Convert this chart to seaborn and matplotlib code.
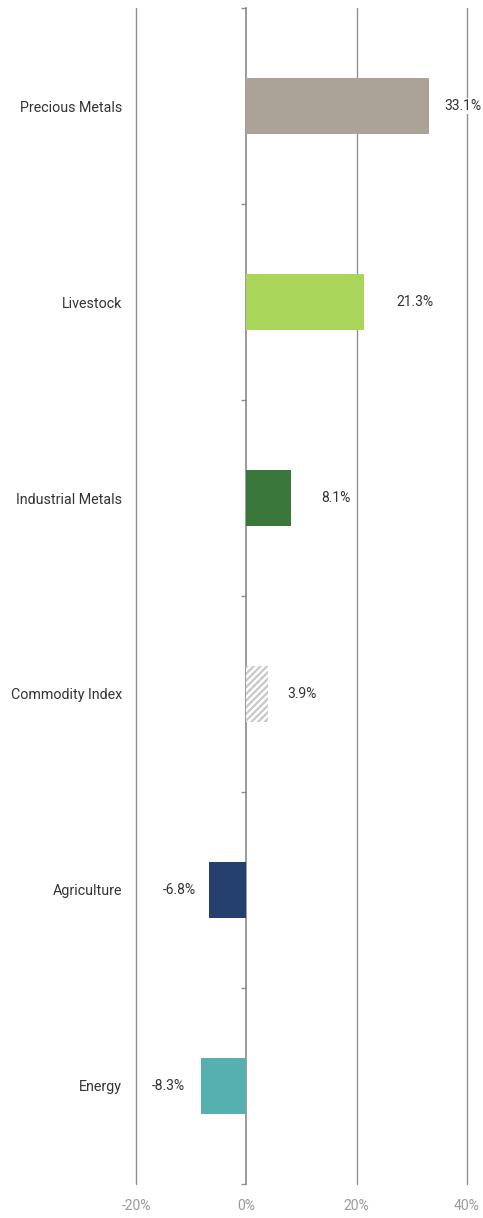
import matplotlib
matplotlib.use("Agg")
import matplotlib.pyplot as plt
import seaborn as sns
import pandas as pd

categories = ["Precious Metals", "Livestock", "Industrial Metals", "Commodity Index", "Agriculture", "Energy"]
returns = [33.1, 21.3, 8.1, 3.9, -6.8, -8.3]
value_labels = ["33.1%", "21.3%", "8.1%", "3.9%", "-6.8%", "-8.3%"]
x_ticks = [-20, 0, 20, 40]
x_tick_labels = ["-20%", "0%", "20%", "40%"]

colors = ["#ABA398", "#A8D55A", "#3A773A", "#FFFFFF", "#253F6E", "#56B0B0"]
# label centre offsets (in percentage points) from bar end, styling only
label_offsets = [6.1, 9.3, 8.2, 6.2, -5.3, -5.8]

sns.set_theme(style="white")
plt.rcParams["font.family"] = ["Roboto", "DejaVu Sans"]
plt.rcParams["hatch.linewidth"] = 1.6

df = pd.DataFrame({"category": categories, "ret": returns})

fig = plt.figure(figsize=(4.83, 12.18), dpi=100)
ax = fig.add_axes([136/483, 34/1218, (467-136)/483, (1184-8)/1218])

sns.barplot(data=df, x="ret", y="category", hue="category", palette=colors,
            orient="h", width=0.29, dodge=False, legend=False, ax=ax,
            linewidth=0, saturation=1)

for patch, cat in zip(ax.patches, categories):
    if cat == "Commodity Index":
        patch.set_facecolor("white")
        patch.set_edgecolor("#C8C8C8")
        patch.set_hatch("/////")
        patch.set_linewidth(0)

ax.set_xlim(-20, 40)
ax.set_ylim(5.5, -0.5)
ax.set_xticks(x_ticks)
ax.set_xticklabels(x_tick_labels, color="#9a9a9a", fontsize=10)
ax.tick_params(axis="x", length=0, pad=11)
ax.tick_params(axis="y", length=0, pad=10, labelsize=10.3, labelcolor="#333333")
ax.set_xlabel("")
ax.set_ylabel("")
for s in ax.spines.values():
    s.set_visible(False)

for xv in x_ticks:
    if xv != 0:
        ax.axvline(xv, color="#8f8f8f", linewidth=1.0, zorder=0, clip_on=False)

sec = ax.secondary_yaxis(1/3)
sec.set_yticks([i - 0.5 for i in range(len(categories) + 1)])
sec.set_yticklabels([])
sec.tick_params(axis="y", length=3.5, width=1, color="#8f8f8f")
sec.spines["left"].set_color("#7f7f7f")
sec.spines["left"].set_linewidth(1.1)
for s in ["right", "top", "bottom"]:
    if s in sec.spines:
        sec.spines[s].set_visible(False)

for i, (v, lab, off) in enumerate(zip(returns, value_labels, label_offsets)):
    ax.text(v + off, i, lab, ha="center", va="center", fontsize=10, color="#333333",
            bbox=dict(facecolor="white", edgecolor="none", pad=1.0), zorder=5, clip_on=False)

fig.savefig("out.png", dpi=100)
